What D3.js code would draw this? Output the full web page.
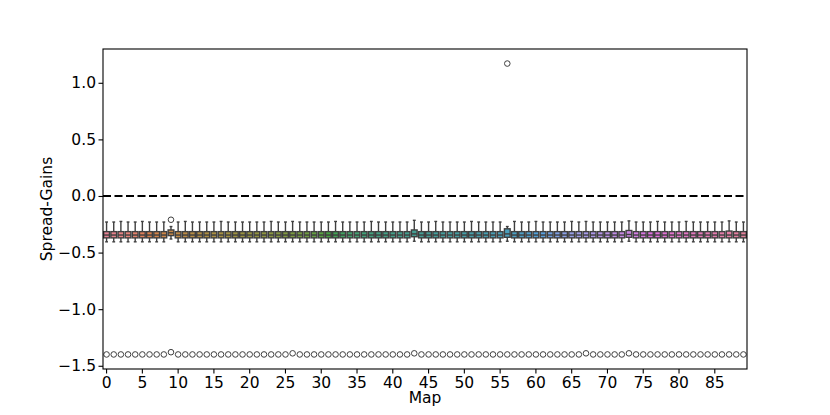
<!DOCTYPE html>
<html><head><meta charset="utf-8">
<script src="https://cdn.jsdelivr.net/npm/d3@7"></script>
<style>body{margin:0;background:#fff}text{font-family:"DejaVu Sans",sans-serif}</style>
</head><body>
<svg id="chart" width="830" height="415"></svg>
<script>
// ---------- data ----------
const maps = d3.range(90);
const xTickLabels = [0,5,10,15,20,25,30,35,40,45,50,55,60,65,70,75,80,85];
const yTickValues = [-1.5,-1.0,-0.5,0.0,0.5,1.0];
const whiskerHigh = [
 -0.23,-0.23,-0.225,-0.23,-0.23,-0.225,-0.23,-0.23,-0.23,-0.27,
 -0.23,-0.225,-0.23,-0.23,-0.23,-0.23,-0.225,-0.23,-0.23,-0.23,
 -0.23,-0.23,-0.23,-0.225,-0.23,-0.23,-0.225,-0.23,-0.23,-0.23,
 -0.23,-0.23,-0.225,-0.23,-0.23,-0.23,-0.23,-0.225,-0.23,-0.23,
 -0.23,-0.23,-0.23,-0.215,-0.23,-0.23,-0.225,-0.23,-0.23,-0.23,
 -0.23,-0.225,-0.23,-0.23,-0.23,-0.23,-0.27,-0.225,-0.23,-0.23,
 -0.225,-0.23,-0.23,-0.23,-0.23,-0.225,-0.23,-0.225,-0.23,-0.23,
 -0.23,-0.23,-0.23,-0.22,-0.23,-0.23,-0.23,-0.225,-0.23,-0.23,
 -0.23,-0.225,-0.23,-0.23,-0.23,-0.23,-0.23,-0.22,-0.23,-0.23];
const q3 = [
 -0.315,-0.315,-0.315,-0.315,-0.315,-0.315,-0.315,-0.315,-0.315,-0.30,
 -0.315,-0.315,-0.315,-0.315,-0.315,-0.315,-0.315,-0.315,-0.315,-0.315,
 -0.315,-0.315,-0.315,-0.315,-0.315,-0.315,-0.315,-0.315,-0.315,-0.315,
 -0.315,-0.315,-0.315,-0.315,-0.315,-0.315,-0.315,-0.315,-0.315,-0.315,
 -0.315,-0.315,-0.315,-0.30,-0.315,-0.315,-0.315,-0.315,-0.315,-0.315,
 -0.315,-0.315,-0.315,-0.315,-0.315,-0.315,-0.29,-0.315,-0.315,-0.315,
 -0.315,-0.315,-0.315,-0.315,-0.315,-0.315,-0.315,-0.315,-0.315,-0.315,
 -0.315,-0.315,-0.315,-0.305,-0.315,-0.315,-0.315,-0.315,-0.315,-0.315,
 -0.315,-0.315,-0.315,-0.315,-0.315,-0.315,-0.315,-0.31,-0.315,-0.315];
const median = [
 -0.345,-0.345,-0.345,-0.345,-0.345,-0.345,-0.345,-0.345,-0.345,-0.325,
 -0.345,-0.345,-0.345,-0.345,-0.345,-0.345,-0.345,-0.345,-0.345,-0.345,
 -0.345,-0.345,-0.345,-0.345,-0.345,-0.345,-0.345,-0.345,-0.345,-0.345,
 -0.345,-0.345,-0.345,-0.345,-0.345,-0.345,-0.345,-0.345,-0.345,-0.345,
 -0.345,-0.345,-0.345,-0.335,-0.345,-0.345,-0.345,-0.345,-0.345,-0.345,
 -0.345,-0.345,-0.345,-0.345,-0.345,-0.345,-0.335,-0.345,-0.345,-0.345,
 -0.345,-0.345,-0.345,-0.345,-0.345,-0.345,-0.345,-0.345,-0.345,-0.345,
 -0.345,-0.345,-0.345,-0.34,-0.345,-0.345,-0.345,-0.345,-0.345,-0.345,
 -0.345,-0.345,-0.345,-0.345,-0.345,-0.345,-0.345,-0.345,-0.345,-0.345];
const q1 = [
 -0.37,-0.37,-0.37,-0.37,-0.37,-0.37,-0.37,-0.37,-0.37,-0.35,
 -0.37,-0.37,-0.37,-0.37,-0.37,-0.37,-0.37,-0.37,-0.37,-0.37,
 -0.37,-0.37,-0.37,-0.37,-0.37,-0.37,-0.37,-0.37,-0.37,-0.37,
 -0.37,-0.37,-0.37,-0.37,-0.37,-0.37,-0.37,-0.37,-0.37,-0.37,
 -0.37,-0.37,-0.37,-0.36,-0.37,-0.37,-0.37,-0.37,-0.37,-0.37,
 -0.37,-0.37,-0.37,-0.37,-0.37,-0.37,-0.365,-0.37,-0.37,-0.37,
 -0.37,-0.37,-0.37,-0.37,-0.37,-0.37,-0.37,-0.37,-0.37,-0.37,
 -0.37,-0.37,-0.37,-0.365,-0.37,-0.37,-0.37,-0.37,-0.37,-0.37,
 -0.37,-0.37,-0.37,-0.37,-0.37,-0.37,-0.37,-0.37,-0.37,-0.37];
const whiskerLow = [
 -0.405,-0.405,-0.405,-0.405,-0.405,-0.405,-0.405,-0.405,-0.405,-0.38,
 -0.405,-0.405,-0.405,-0.405,-0.405,-0.405,-0.405,-0.405,-0.405,-0.405,
 -0.405,-0.405,-0.405,-0.405,-0.405,-0.405,-0.405,-0.405,-0.405,-0.405,
 -0.405,-0.405,-0.405,-0.405,-0.405,-0.405,-0.405,-0.405,-0.405,-0.405,
 -0.405,-0.405,-0.405,-0.40,-0.405,-0.405,-0.405,-0.405,-0.405,-0.405,
 -0.405,-0.405,-0.405,-0.405,-0.405,-0.405,-0.40,-0.405,-0.405,-0.405,
 -0.405,-0.405,-0.405,-0.405,-0.405,-0.405,-0.405,-0.405,-0.405,-0.405,
 -0.405,-0.405,-0.405,-0.40,-0.405,-0.405,-0.405,-0.405,-0.405,-0.405,
 -0.405,-0.405,-0.405,-0.405,-0.405,-0.405,-0.405,-0.405,-0.405,-0.405];
const outlierLow = [
 -1.40,-1.40,-1.40,-1.40,-1.40,-1.40,-1.40,-1.40,-1.40,-1.38,
 -1.40,-1.40,-1.40,-1.40,-1.40,-1.40,-1.40,-1.40,-1.40,-1.40,
 -1.40,-1.40,-1.40,-1.40,-1.40,-1.40,-1.39,-1.40,-1.40,-1.40,
 -1.40,-1.40,-1.40,-1.40,-1.40,-1.40,-1.40,-1.40,-1.40,-1.40,
 -1.40,-1.40,-1.40,-1.39,-1.40,-1.40,-1.40,-1.40,-1.40,-1.40,
 -1.40,-1.40,-1.40,-1.40,-1.40,-1.40,-1.40,-1.40,-1.40,-1.40,
 -1.40,-1.40,-1.40,-1.40,-1.40,-1.40,-1.40,-1.39,-1.40,-1.40,
 -1.40,-1.40,-1.40,-1.39,-1.40,-1.40,-1.40,-1.40,-1.40,-1.40,
 -1.40,-1.40,-1.40,-1.40,-1.40,-1.40,-1.40,-1.40,-1.40,-1.40];
const extraOutlierMaps = [9, 56];
const extraOutlierValues = [-0.21, 1.17];
const refLine = 0;

// ---------- husl palette (seaborn style) ----------
const M = [[3.240969941904521,-1.537383177570093,-0.498610760293],
           [-0.96924363628087,1.87596750150772,0.041555057407175],
           [0.055630079696993,-0.20397695888897,1.056971514242878]];
const refU=0.19783000664283, refV=0.46831999493879, kappa=903.2962962, eps=0.0088564516;
function bounds(L){const s1=Math.pow(L+16,3)/1560896, s2=s1>eps?s1:L/kappa, r=[];
  for(const [m1,m2,m3] of M){for(const t of [0,1]){
    const top1=(284517*m1-94839*m3)*s2;
    const top2=(838422*m3+769860*m2+731718*m1)*L*s2-769860*t*L;
    const bot=(632260*m3-126452*m2)*s2+126452*t;
    r.push([top1/bot, top2/bot]);}}
  return r;}
function maxChroma(L,H){const hr=H/360*2*Math.PI;let mn=Infinity;
  for(const [sl,ic] of bounds(L)){const len=ic/(Math.sin(hr)-sl*Math.cos(hr)); if(len>=0&&len<mn) mn=len;}
  return mn;}
function lin2srgb(c){return c<=0.0031308?12.92*c:1.055*Math.pow(c,1/2.4)-0.055;}
function husl(H,S,L){
  const C=maxChroma(L,H)/100*S, hr=H/360*2*Math.PI;
  const U=C*Math.cos(hr), V=C*Math.sin(hr);
  const vu=U/(13*L)+refU, vv=V/(13*L)+refV;
  const Y=L<=8?L/kappa:Math.pow((L+16)/116,3);
  const X=0-(9*Y*vu)/((vu-4)*vv-vu*vv);
  const Z=(9*Y-15*vv*Y-vv*X)/(3*vv);
  return M.map(r=>Math.min(1,Math.max(0,lin2srgb(r[0]*X+r[1]*Y+r[2]*Z))));
}
const n = maps.length;
const rawColors = maps.map(i=>{let h=(i/n+0.01)%1; return husl(h*359, 0.9*99, 0.65*99);});
const boxColors = rawColors.map(([r,g,b])=>{const c=d3.hsl(d3.rgb(r*255,g*255,b*255)); c.s*=0.75; return c.formatHex();});
const minLight = d3.min(boxColors, c=>{const q=d3.rgb(c); return (Math.max(q.r,q.g,q.b)+Math.min(q.r,q.g,q.b))/2/255;});
const gv = Math.round(minLight*0.6*255);
const gray = d3.rgb(gv,gv,gv).formatHex();

// ---------- layout ----------
const svg = d3.select("#chart");
const m = {left:103, right:747, top:49, bottom:369};
const allVals = [...whiskerHigh, ...outlierLow, ...extraOutlierValues];
const lo = d3.min(allVals), hi = d3.max(allVals), pad=(hi-lo)*0.05;
const y = d3.scaleLinear().domain([lo-pad, hi+pad]).range([m.bottom, m.top]);
const x = d3.scaleBand().domain(maps).range([m.left, m.right]).paddingInner(0).paddingOuter(0);
const bw = x.bandwidth()*0.8, cx = i => x(i)+x.bandwidth()/2;

const g = svg.append("g");
// dashed reference line
g.append("line").attr("x1",m.left).attr("x2",m.right).attr("y1",y(refLine)).attr("y2",y(refLine))
  .attr("stroke","#000").attr("stroke-width",1.9).attr("stroke-dasharray","8,3.5");

const lw = 1.4;
const grp = g.selectAll("g.box").data(maps).join("g").attr("class","box");
// whiskers
grp.append("line").attr("x1",cx).attr("x2",cx).attr("y1",i=>y(q3[i])).attr("y2",i=>y(whiskerHigh[i])).attr("stroke",gray).attr("stroke-width",lw);
grp.append("line").attr("x1",cx).attr("x2",cx).attr("y1",i=>y(q1[i])).attr("y2",i=>y(whiskerLow[i])).attr("stroke",gray).attr("stroke-width",lw);
// caps
grp.append("line").attr("x1",i=>cx(i)-bw/4).attr("x2",i=>cx(i)+bw/4).attr("y1",i=>y(whiskerHigh[i])).attr("y2",i=>y(whiskerHigh[i])).attr("stroke",gray).attr("stroke-width",lw);
grp.append("line").attr("x1",i=>cx(i)-bw/4).attr("x2",i=>cx(i)+bw/4).attr("y1",i=>y(whiskerLow[i])).attr("y2",i=>y(whiskerLow[i])).attr("stroke",gray).attr("stroke-width",lw);
// boxes
grp.append("rect").attr("x",i=>cx(i)-bw/2).attr("width",bw)
  .attr("y",i=>y(q3[i])).attr("height",i=>y(q1[i])-y(q3[i]))
  .attr("fill",i=>boxColors[i]).attr("stroke",gray).attr("stroke-width",lw);
// median
grp.append("line").attr("x1",i=>cx(i)-bw/2).attr("x2",i=>cx(i)+bw/2).attr("y1",i=>y(median[i])).attr("y2",i=>y(median[i])).attr("stroke",gray).attr("stroke-width",lw);
// outliers
grp.append("circle").attr("cx",cx).attr("cy",i=>y(outlierLow[i])).attr("r",2.8).attr("fill","none").attr("stroke",gray).attr("stroke-width",1);
g.selectAll("circle.extra").data(extraOutlierMaps).join("circle").attr("class","extra")
  .attr("cx",cx).attr("cy",(d,k)=>y(extraOutlierValues[k])).attr("r",2.8).attr("fill","none").attr("stroke",gray).attr("stroke-width",1);

// frame
svg.append("rect").attr("x",m.left).attr("y",m.top).attr("width",m.right-m.left).attr("height",m.bottom-m.top)
  .attr("fill","none").attr("stroke","#000").attr("stroke-width",1.1);

// axes
const fmt = v => (v<0?"\u2212":"")+Math.abs(v).toFixed(1);
const yAxis = svg.append("g").attr("transform",`translate(${m.left},0)`)
  .call(d3.axisLeft(y).tickValues(yTickValues).tickFormat(fmt).tickSize(4.5).tickPadding(2.5));
const xAxis = svg.append("g").attr("transform",`translate(0,${m.bottom})`)
  .call(d3.axisBottom(x).tickValues(xTickLabels).tickSize(4.5).tickPadding(3));
[yAxis,xAxis].forEach(a=>{a.select(".domain").remove();
  a.selectAll("text").attr("font-size",15.5).attr("font-family","DejaVu Sans").attr("fill","#000");
  a.selectAll("line").attr("stroke","#000").attr("stroke-width",1.1);});

svg.append("text").attr("x",(m.left+m.right)/2).attr("y",403).attr("text-anchor","middle")
  .attr("font-size",15.5).text("Map");
svg.append("text").attr("transform",`translate(52,${(m.top+m.bottom)/2}) rotate(-90)`).attr("text-anchor","middle")
  .attr("font-size",15.5).text("Spread-Gains");
</script>
</body></html>
